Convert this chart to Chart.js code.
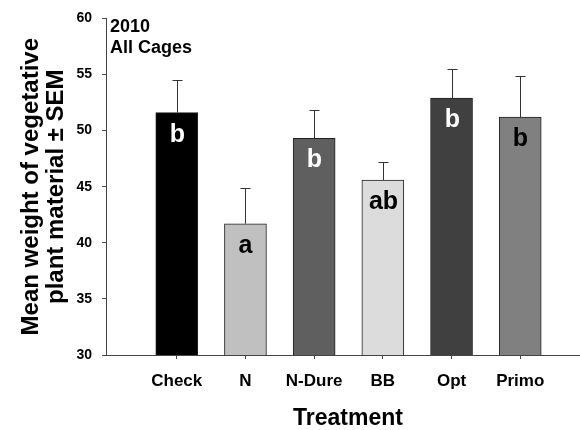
<!DOCTYPE html>
<html>
<head>
<meta charset="utf-8">
<script src="https://cdn.jsdelivr.net/npm/chart.js@4/dist/chart.umd.min.js"></script>
<style>
  html, body { margin: 0; padding: 0; background: #ffffff; }
  #wrap { width: 580px; height: 430px; }
</style>
</head>
<body>
<div id="wrap"><canvas id="chart" width="580" height="430"></canvas></div>
<script>
// Treatments and their mean vegetative weight (± SEM), 2010, all cages
const treatments = ['Check', 'N', 'N-Dure', 'BB', 'Opt', 'Primo'];
const meanWeight = [51.6, 41.7, 49.3, 45.6, 52.9, 51.2];
const sem = [2.9, 3.2, 2.5, 1.6, 2.6, 3.7];
const groupLetters = ['b', 'a', 'b', 'ab', 'b', 'b'];
const yTicks = [30, 35, 40, 45, 50, 55, 60];

// Styling
const barColors = ['#000000', '#c0c0c0', '#5f5f5f', '#dcdcdc', '#404040', '#808080'];
const letterColors = ['#ffffff', '#000000', '#ffffff', '#000000', '#ffffff', '#000000'];
const FONT = '"Liberation Sans", Arial, Helvetica, sans-serif';
const AXIS_COLOR = '#444444';

// Error bars, significance letters, the panel note and the x-axis title
const annotations = {
  id: 'annotations',
  afterDatasetsDraw(chart) {
    const { ctx, scales: { x, y } } = chart;
    ctx.save();
    meanWeight.forEach((v, i) => {
      const px = Math.round(x.getPixelForValue(i + 1)) + 0.5;
      const top = y.getPixelForValue(v);
      const hi = Math.round(y.getPixelForValue(v + sem[i])) + 0.5;
      ctx.strokeStyle = '#333333';
      ctx.lineWidth = 1;
      ctx.beginPath();
      ctx.moveTo(px, top);
      ctx.lineTo(px, hi);
      ctx.moveTo(px - 5, hi);
      ctx.lineTo(px + 5, hi);
      ctx.stroke();

      ctx.fillStyle = letterColors[i];
      ctx.font = 'bold 25px ' + FONT;
      ctx.textAlign = 'center';
      ctx.textBaseline = 'alphabetic';
      ctx.fillText(groupLetters[i], px, top + 29);
    });

    ctx.fillStyle = '#000000';
    ctx.font = 'bold 18px ' + FONT;
    ctx.textAlign = 'left';
    ctx.textBaseline = 'alphabetic';
    ctx.fillText('2010', 110, 32);
    ctx.fillText('All Cages', 110, 52.5);

    ctx.font = 'bold 23px ' + FONT;
    ctx.textAlign = 'center';
    ctx.fillText('Treatment', 348, 425);
    ctx.restore();
  }
};

new Chart(document.getElementById('chart'), {
  type: 'bar',
  data: {
    datasets: [{
      data: meanWeight.map((v, i) => ({ x: i + 1, y: v })),
      backgroundColor: barColors,
      borderColor: '#222222',
      borderWidth: 1,
      barThickness: 42
    }]
  },
  options: {
    responsive: false,
    animation: false,
    devicePixelRatio: 1,
    layout: { padding: { left: 0, right: 0, top: 17, bottom: 0 } },
    plugins: {
      legend: { display: false },
      tooltip: { enabled: false }
    },
    scales: {
      x: {
        type: 'linear',
        offset: false,
        bounds: 'data',
        min: -0.03,
        max: 6.87,
        afterBuildTicks: (s) => { s.ticks = treatments.map((_, i) => ({ value: i + 1 })); },
        afterFit: (s) => { s.height = 75; },
        grid: { offset: false, drawOnChartArea: false, drawTicks: true, tickLength: 4, tickColor: AXIS_COLOR },
        border: { color: AXIS_COLOR, width: 1 },
        ticks: {
          callback: (v) => treatments[Math.round(v) - 1],
          font: { family: FONT, size: 17, weight: 'bold' },
          color: '#000000',
          padding: 12,
          maxRotation: 0,
          autoSkip: false
        },
        title: { display: false }
      },
      y: {
        min: 30,
        max: 60,
        afterBuildTicks: (s) => { s.ticks = yTicks.map((v) => ({ value: v })); },
        afterFit: (s) => { s.width = 106; },
        grid: { drawOnChartArea: false, drawTicks: true, tickLength: 4, tickColor: AXIS_COLOR },
        border: { color: AXIS_COLOR, width: 1 },
        ticks: {
          font: { family: FONT, size: 14, weight: 'bold' },
          color: '#000000',
          padding: 10
        },
        title: {
          display: true,
          text: ['Mean weight of vegetative', 'plant material \u00b1 SEM'],
          font: { family: FONT, size: 24, weight: 'bold', lineHeight: 1.04 },
          color: '#000000',
          padding: { top: 19, bottom: 0 }
        }
      }
    }
  },
  plugins: [annotations]
});
</script>
</body>
</html>
